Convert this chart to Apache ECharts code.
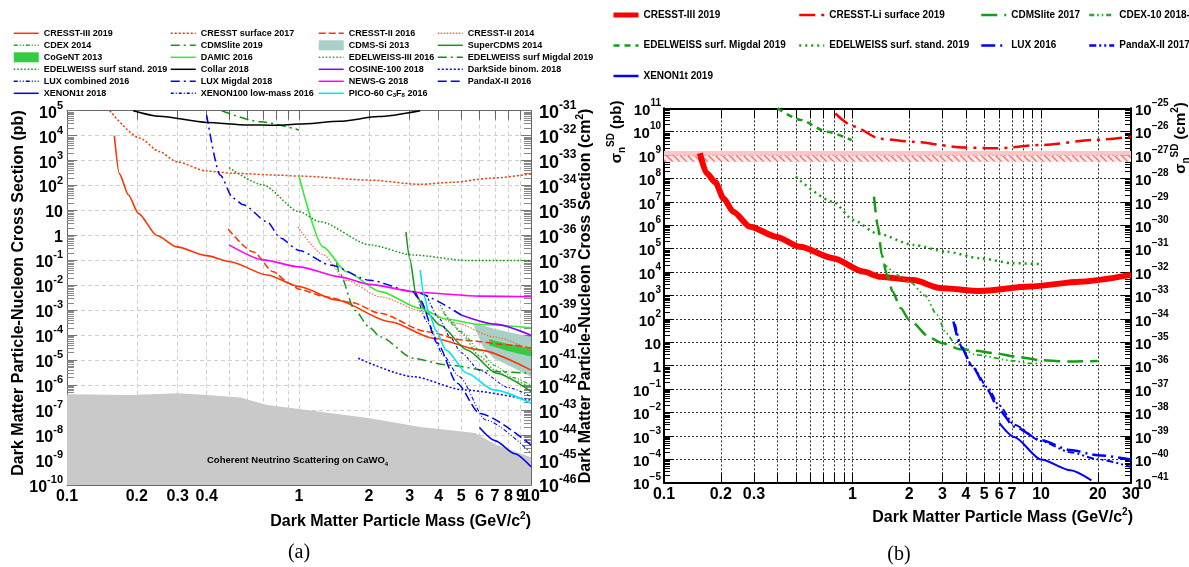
<!DOCTYPE html>
<html><head><meta charset="utf-8">
<script src="https://cdn.jsdelivr.net/npm/echarts@6/dist/echarts.min.js"></script>
<style>html,body{margin:0;padding:0;background:#fff;}#c{width:1189px;height:567px;}</style>
</head><body><div id="c"></div>
<script>
// ---------- tick values ----------
const leftMassTicks = [0.1,0.2,0.3,0.4,0.5,0.6,0.7,0.8,0.9,1,2,3,4,5,6,7,8,9,10];
const leftMassLabels = [0.1,0.2,0.3,0.4,1,2,3,4,5,6,7,8,10];
const leftMassLabelsCrowded = [9];
const rightMassTicks = [0.1,0.2,0.3,0.4,0.5,0.6,0.7,0.8,0.9,1,2,3,4,5,6,7,8,9,10,20,30];
const rightMassLabels = [0.1,0.2,0.3,1,2,3,4,5,6,7,10,20,30];
const leftPbExp = [-10, 5];
const leftCm2Exp = [-46, -31];
const rightPbExp = [-5, 11];
const rightCm2Exp = [-41, -25];

// ---------- panel (a) data: [mass GeV/c2, cross section pb] ----------
const cresst3_2019 = [[0.16,1e4],[0.168,300],[0.184,42],[0.203,7.7],[0.244,1],[0.297,0.35],[0.4,0.155],[0.505,0.089],[0.73,0.026],[1.0,0.009],[1.45,2.6e-3],[2.47,3.5e-4],[3.8,7.6e-5],[6.0,2.6e-5],[10,4e-6]];
const cresstSurf2017 = [[0.153,1e5],[0.206,8e3],[0.25,2.3e3],[0.297,900],[0.4,380],[0.52,310],[0.83,260],[1.0,240],[2.02,165],[3.33,112],[4.6,135],[6.65,195],[10,290]];
const cresst2_2016 = [[0.495,1.8],[0.635,0.22],[0.775,0.035],[0.91,0.012],[1.0,7e-3],[1.3,3.5e-3],[1.71,2e-3],[2.23,7.6e-4],[3.55,1.4e-4],[5.1,6.4e-5],[8.4,4e-5],[10,3e-5]];
const cresst2_2014 = [[0.99,2.2],[1.27,0.17],[1.6,0.016],[2.24,3.5e-3],[3.46,8.8e-4],[4.8,3e-4],[6.9,8.7e-5],[10,2.6e-5]];
const cdex2014 = [[4.2,8e-4],[5,1.4e-4],[6,2.5e-5],[7,6e-6],[8.4,2e-6],[10,1e-6]];
const cdmslite2019 = [[1.45,0.08],[1.5,0.03],[1.74,1e-3],[2.02,2e-4],[2.24,8.7e-5],[3.1,1.2e-5],[4.3,6.5e-6],[7.1,3.5e-6],[10,3e-6]];
const cdmsSi2013Upper = [[5.6,3.2e-4],[7,1.8e-4],[8.4,1.2e-4],[10,8.7e-5]];
const cdmsSi2013Lower = [[5.6,3.2e-4],[6.2,3.5e-5],[6.9,1.2e-5],[8.4,5e-6],[10,2.2e-6]];
const cogent2013Upper = [[6.6,7e-5],[8,4.5e-5],[10,2.8e-5]];
const cogent2013Lower = [[6.6,4e-5],[8,2.3e-5],[10,1.4e-5]];
const superCdms2014 = [[2.89,1.4],[3.0,0.12],[3.2,4e-3],[3.55,8e-4],[4.06,2.5e-4],[5.3,2.6e-5],[7.1,3e-6],[10,5.5e-7]];
const damic2016 = [[1.0,240],[1.27,0.35],[1.6,0.035],[2.24,5.6e-3],[3.33,1.2e-3],[4.3,4.5e-4],[6.0,2.7e-4],[10,2e-4]];
const edelweiss3_2016 = [[4.06,1.6e-3],[4.5,4e-4],[5,1.2e-4],[6,1.5e-5],[7,4e-6],[8.4,1.6e-6],[10,8e-7]];
const edelweissSurfMigdal2019 = [[0.465,1e5],[0.68,3.6e4],[1.0,1.7e4]];
const edelweissSurfStand2019 = [[0.5,520],[0.7,105],[1.0,9],[1.23,3.6],[2.02,0.42],[3.1,0.165],[5.3,0.1],[10,0.1]];
const collar2018 = [[0.193,1e5],[0.25,6e4],[0.4,3.4e4],[0.6,2.7e4],[0.8,2.6e4],[1.0,2.9e4],[1.5,3.8e4],[2.2,5.8e4],[3.33,1e5]];
const cosine100_2018 = [[5,6.5e-4],[7,2.8e-4],[10,1e-4]];
const darkSide2018 = [[1.8,1.2e-5],[3.1,2.2e-6],[5.1,6.5e-7],[10,2.5e-7]];
const luxComb2016 = [[3.2,5e-3],[3.6,3e-4],[4.2,1.5e-5],[4.9,2.2e-6],[6.4,4e-8],[10,1.9e-9]];
const luxMigdal2018 = [[0.4,6.7e4],[0.457,265],[0.52,31],[0.575,17],[0.73,3.5],[0.83,0.8],[1.0,0.25],[1.36,0.066],[2.02,0.016],[3.1,5.6e-3],[5.0,6.5e-4]];
const newsG2018 = [[0.5,0.42],[0.7,0.105],[1.0,0.055],[1.5,0.022],[2.0,0.011],[3.3,5.2e-3],[6,3.7e-3],[10,3.5e-3]];
const pandax2016 = [[3.1,6e-3],[3.33,2.6e-3],[3.95,4.8e-5],[4.8,1.2e-6],[6,7.4e-8],[10,4e-9]];
const xenon1t2018 = [[6.0,2e-8],[7,6e-9],[8.5,1.8e-9],[10,5.4e-10]];
const xenon100lm2016 = [[3.6,3e-3],[4,5e-4],[4.5,8e-5],[5,2e-5],[6,4e-6],[8,8e-7],[10,3.5e-7]];
const pico60_2016 = [[3.33,0.041],[3.46,4e-3],[3.63,8e-4],[3.9,1.5e-4],[4.3,2.6e-5],[5.3,3e-6],[6.9,6.5e-7],[10,1.9e-7]];
const neutrinoFloor = [[0.1,4.3e-7],[0.19,4e-7],[0.3,4.7e-7],[0.4,4e-7],[0.557,3.2e-7],[0.73,1.6e-7],[1.0,1.1e-7],[2.02,4.7e-8],[3.33,2.1e-8],[5.74,1.2e-8],[7.1,4e-9],[10,1.3e-9],[10,1e-10],[0.1,1e-10]];

// ---------- panel (b) data: [mass GeV/c2, sigma_n^SD pb] ----------
const sdCresst3_2019 = [[0.155,1.2e9],[0.168,1.7e8],[0.187,7e7],[0.207,1.4e7],[0.233,3.8e6],[0.286,8.7e5],[0.396,3.2e5],[0.526,1.2e5],[0.79,3.9e4],[1.14,1.05e4],[1.4,6.3e3],[2.1,4.6e3],[2.91,2.1e3],[4.74,1.55e3],[8.75,2.4e3],[16.1,3.9e3],[30,7.6e3]];
const sdCresstLi2019 = [[0.81,6e10],[1.01,1.7e10],[1.4,5e9],[2.1,3.7e9],[3.87,2.1e9],[5.8,1.95e9],[9.9,2.7e9],[19.7,4.5e9],[30,6.2e9]];
const sdCdmslite2017 = [[1.3,1.7e7],[1.36,1e6],[1.43,5.4e4],[1.52,8e3],[1.63,1.5e3],[1.8,290],[2.0,90],[2.6,15],[3,9],[3.76,5],[4.5,4.4],[5.7,3.4],[7.2,2.5],[10,1.7],[14.3,1.5],[20,1.6]];
const sdCdex10_2018 = [[1.46,2.3e4],[2.0,4e3],[2.43,1e3],[2.8,150],[3.13,25],[3.5,9],[4.5,2.9],[7.2,1.6],[8.6,1.26],[10,1.26]];
const sdEdwMigdal2019 = [[0.4,1e11],[0.53,3.2e10],[0.73,1e10],[0.99,4.4e9]];
const sdEdwStand2019 = [[0.5,1.2e8],[0.79,1e7],[1.01,1.7e6],[1.34,4.6e5],[2.1,1.45e5],[3.16,7.4e4],[4.74,3.9e4],[7.1,2.4e4],[10,2.2e4]];
const sdLux2016 = [[3.43,77],[3.76,6.5],[4.32,0.9],[5.2,0.09],[6,0.0126],[7.2,2.5e-3],[10,6.5e-4],[14.3,2.5e-4],[20,1.5e-4],[30,9.8e-5]];
const sdPandax2017 = [[3.5,60],[3.8,6],[4.3,1],[5.2,0.12],[6,0.02],[7.2,3e-3],[10,6e-4],[14.3,2e-4],[20,1e-4],[30,4.7e-5]];
const sdXenon1t2019 = [[6.0,3.6e-3],[7.2,9e-4],[10,9.8e-5],[14.3,3.4e-5],[18.5,1.26e-5]];
const sdMassSpan = [0.1, 30];
const sdPinkBand = [9.4e8, 1.5e9];
const sdHatchBand = [5.2e8, 9.4e8];

// ---------- helpers ----------
const FONT = '"Liberation Sans", Arial, Helvetica, sans-serif';
const L = v => Math.log10(v);
const toLog = pts => pts.map(p => [L(p[0]), L(p[1])]);
const minorTicks = (lo, hi) => { const v = []; for (let n = lo; n < hi; n++) for (let k = 2; k < 10; k++) v.push(n + Math.log10(k)); return v; };
const rect = (xs, ys) => [[xs[0], ys[0]], [xs[1], ys[0]], [xs[1], ys[1]], [xs[0], ys[1]]];
const closeBand = (up, lo) => up.concat(lo.slice().reverse());
const massFmt = v => String(+Math.pow(10, v).toPrecision(2));

function expFmt(minus) {
  return v => {
    const n = Math.round(v);
    if (n === 0) return '{b|1}';
    if (n === 1) return '{b|10}';
    return '{b|10}{s|' + (n < 0 ? minus + (-n) : String(n)) + '}';
  };
}
const labelFont = { fontFamily: FONT, fontWeight: 'bold', fontSize: 16, color: '#000' };
function massAxis(gi, pos, maxM, ticks, labels, o) {
  const bottom = pos === 'bottom';
  return {
    type: 'value', gridIndex: gi, position: pos, min: -1, max: L(maxM),
    axisLine: { show: true, onZero: false, lineStyle: { color: o.line, width: o.lw } },
    axisTick: { show: true, inside: true, length: o.tickLen, customValues: ticks.map(L), lineStyle: { color: o.tick, width: 1 } },
    axisLabel: Object.assign({ show: bottom, customValues: labels.map(L), margin: 4, hideOverlap: false, formatter: massFmt }, labelFont),
    splitLine: { show: bottom, lineStyle: o.split }
  };
}
function labelOnlyAxis(gi, maxM, labels) {
  return {
    type: 'value', gridIndex: gi, position: 'bottom', min: -1, max: L(maxM),
    axisLine: { show: false, onZero: false }, axisTick: { show: false }, splitLine: { show: false },
    axisLabel: Object.assign({ show: true, customValues: labels.map(L), margin: 4, hideOverlap: false, formatter: massFmt }, labelFont)
  };
}
function expAxis(gi, pos, lo, hi, o) {
  return {
    type: 'value', gridIndex: gi, position: pos, min: lo, max: hi, interval: 1,
    axisLine: { show: true, onZero: false, lineStyle: { color: o.line, width: o.lw } },
    axisTick: { show: true, inside: true, length: o.tickLen, lineStyle: { color: o.tick } },
    axisLabel: { show: true, margin: o.margin, hideOverlap: false, formatter: expFmt(o.minus),
      rich: {
        b: { fontSize: o.fs, fontWeight: 'bold', fontFamily: FONT, color: '#000', lineHeight: o.fs + 5, verticalAlign: 'bottom' },
        s: { fontSize: o.sfs, fontWeight: 'bold', fontFamily: FONT, color: '#000', lineHeight: o.sfs + 1, verticalAlign: 'top' }
      } },
    splitLine: { show: !!o.split, lineStyle: o.split || {} }
  };
}
function minorAxis(gi, pos, lo, hi, color, len) {
  return { type: 'value', gridIndex: gi, position: pos, min: lo, max: hi,
    axisLine: { show: false, onZero: false }, axisLabel: { show: false }, splitLine: { show: false },
    axisTick: { show: true, inside: true, length: len, customValues: minorTicks(lo, hi), lineStyle: { color } } };
}
function line(name, pts, xi, yi, color, width, type) {
  return { type: 'line', name, xAxisIndex: xi, yAxisIndex: yi, data: toLog(pts), symbol: 'none',
    smooth: 0.25, smoothMonotone: 'x', clip: true, silent: true, z: 3,
    lineStyle: { color, width, type }, itemStyle: { color }, emphasis: { disabled: true } };
}
function poly(name, pts, xi, yi, fill, z) {
  const lp = toLog(pts);
  return { type: 'custom', name, xAxisIndex: xi, yAxisIndex: yi, coordinateSystem: 'cartesian2d',
    silent: true, clip: true, z, data: [lp[0]], itemStyle: { color: typeof fill === 'string' ? fill : '#ff9999' },
    renderItem: (params, api) => ({ type: 'polygon', shape: { points: lp.map(p => api.coord(p)) }, style: { fill: fill, stroke: null } }) };
}

// hatch pattern
const hc = document.createElement('canvas'); hc.width = 7; hc.height = 7;
const hg = hc.getContext('2d');
hg.fillStyle = '#ffeaea'; hg.fillRect(0, 0, 7, 7);
hg.strokeStyle = '#ff6a6a'; hg.lineWidth = 1.3; hg.beginPath();
hg.moveTo(-1, -1); hg.lineTo(8, 8); hg.moveTo(-1, 6); hg.lineTo(1, 8); hg.moveTo(6, -1); hg.lineTo(8, 1); hg.stroke();

// ---------- axes ----------
const gA = { line: '#666', lw: 1, tick: '#666', tickLen: 9, split: { color: '#cfcfcf', type: [4, 3], width: 1 } };
const gB = { line: '#000', lw: 2, tick: '#000', tickLen: 10, split: { color: '#333', type: [2, 2], width: 1 } };

const xAxis = [
  massAxis(0, 'bottom', 10, leftMassTicks, leftMassLabels, gA),
  massAxis(0, 'top', 10, leftMassTicks, leftMassLabels, gA),
  massAxis(1, 'bottom', 30, rightMassTicks, rightMassLabels, gB),
  massAxis(1, 'top', 30, rightMassTicks, rightMassLabels, gB),
  labelOnlyAxis(0, 10, leftMassLabelsCrowded)
];
const yAxis = [
  expAxis(0, 'left', leftPbExp[0], leftPbExp[1], { line: '#666', lw: 1, tick: '#777', tickLen: 10, margin: 4, minus: '-', fs: 16, sfs: 11, split: gA.split }),
  minorAxis(0, 'left', leftPbExp[0], leftPbExp[1], '#888', 7),
  expAxis(0, 'right', leftCm2Exp[0], leftCm2Exp[1], { line: '#666', lw: 1, tick: '#777', tickLen: 10, margin: 8, minus: '-', fs: 18, sfs: 12 }),
  minorAxis(0, 'right', leftCm2Exp[0], leftCm2Exp[1], '#888', 7),
  expAxis(1, 'left', rightPbExp[0], rightPbExp[1], { line: '#000', lw: 2, tick: '#000', tickLen: 10, margin: 3, minus: '\u2212', fs: 15, sfs: 10, split: gB.split }),
  minorAxis(1, 'left', rightPbExp[0], rightPbExp[1], '#000', 6),
  expAxis(1, 'right', rightCm2Exp[0], rightCm2Exp[1], { line: '#000', lw: 2, tick: '#000', tickLen: 10, margin: 4, minus: '\u2212', fs: 15, sfs: 10 }),
  minorAxis(1, 'right', rightCm2Exp[0], rightCm2Exp[1], '#000', 6)
];

// ---------- series ----------
const RA = '#ff3300', GA = '#119911', BL = '#0000ff';
const CR3B = 'CRESST-III 2019\u200b';
const series = [
  poly('neutrino floor', neutrinoFloor, 0, 0, '#c9c9c9', 1),
  poly('CDMS-Si 2013', closeBand(cdmsSi2013Upper, cdmsSi2013Lower), 0, 0, '#a9cfc6', 2),
  poly('CoGeNT 2013', closeBand(cogent2013Upper, cogent2013Lower), 0, 0, '#33cc44', 2),
  line('CRESST-III 2019', cresst3_2019, 0, 0, RA, 1.6, 'solid'),
  line('CRESST surface 2017', cresstSurf2017, 0, 0, RA, 1.5, [2, 2]),
  line('CRESST-II 2016', cresst2_2016, 0, 0, RA, 1.5, [7, 3]),
  line('CRESST-II 2014', cresst2_2014, 0, 0, '#ff6644', 1.2, [1.5, 1.5]),
  line('CDEX 2014', cdex2014, 0, 0, '#22aa22', 1.2, [4, 2, 1, 2, 1, 2]),
  line('CDMSlite 2019', cdmslite2019, 0, 0, GA, 1.5, [9, 4, 2, 4]),
  line('SuperCDMS 2014', superCdms2014, 0, 0, GA, 1.5, 'solid'),
  line('DAMIC 2016', damic2016, 0, 0, '#33ee33', 1.6, 'solid'),
  line('EDELWEISS-III 2016', edelweiss3_2016, 0, 0, '#33aa33', 1.5, [1.5, 2]),
  line('EDELWEISS surf Migdal 2019', edelweissSurfMigdal2019, 0, 0, '#009900', 1.5, [9, 4, 2, 4]),
  line('EDELWEISS surf stand. 2019', edelweissSurfStand2019, 0, 0, '#009900', 1.5, [1.5, 2]),
  line('Collar 2018', collar2018, 0, 0, '#000000', 1.5, 'solid'),
  line('COSINE-100 2018', cosine100_2018, 0, 0, '#8a00ff', 1.6, 'solid'),
  line('DarkSide binom. 2018', darkSide2018, 0, 0, BL, 1.5, [2, 2]),
  line('LUX combined 2016', luxComb2016, 0, 0, BL, 1.1, [4, 2, 1, 2, 1, 2]),
  line('LUX Migdal 2018', luxMigdal2018, 0, 0, BL, 1.5, [9, 4, 2, 4]),
  line('NEWS-G 2018', newsG2018, 0, 0, '#ff00ff', 1.6, 'solid'),
  line('PandaX-II 2016', pandax2016, 0, 0, BL, 1.5, [9, 4]),
  line('XENON1t 2018', xenon1t2018, 0, 0, BL, 1.6, 'solid'),
  line('XENON100 low-mass 2016', xenon100lm2016, 0, 0, BL, 1.1, [3, 2, 1, 2]),
  line('PICO-60 C3F8 2016', pico60_2016, 0, 0, '#00e5ee', 1.6, 'solid'),

  poly('pink band', rect(sdMassSpan, sdPinkBand), 2, 4, '#ffc4c4', 1),
  poly('hatch band', rect(sdMassSpan, sdHatchBand), 2, 4, { image: hc, repeat: 'repeat' }, 1),
  line(CR3B, sdCresst3_2019, 2, 4, '#ff0000', 6, 'solid'),
  line('CRESST-Li surface 2019', sdCresstLi2019, 2, 4, '#ff0000', 2.5, [16, 6, 3, 6]),
  line('CDMSlite 2017', sdCdmslite2017, 2, 4, '#11a011', 2.5, [16, 7]),
  line('CDEX-10 2018-', sdCdex10_2018, 2, 4, '#22aa22', 1.8, [5, 3, 1.5, 3, 1.5, 3]),
  line('EDELWEISS surf. Migdal 2019', sdEdwMigdal2019, 2, 4, '#11a011', 2.5, [6, 5]),
  line('EDELWEISS surf. stand. 2019', sdEdwStand2019, 2, 4, '#11a011', 2.5, [2, 4]),
  line('LUX 2016', sdLux2016, 2, 4, BL, 2.5, [14, 5, 2, 5]),
  line('PandaX-II 2017', sdPandax2017, 2, 4, BL, 2, [7, 3, 2, 3, 2, 3]),
  line('XENON1t 2019', sdXenon1t2019, 2, 4, BL, 2, 'solid')
];

// ---------- legends ----------
function legendCol(left, top, gap, fs, lw, data) {
  return { orient: 'vertical', left, top, padding: 0, itemWidth: 25, itemHeight: 10, itemGap: gap,
    selectedMode: false, data, lineStyle: { width: lw }, itemStyle: { opacity: 0 },
    formatter: n => n === 'PICO-60 C3F8 2016' ? 'PICO-60 C{sub|3}F{sub|8} 2016' : n.replace('\u200b', ''),
    textStyle: { fontFamily: FONT, fontWeight: 'bold', fontSize: fs, color: '#000', lineHeight: 10,
      rich: { sub: { fontFamily: FONT, fontWeight: 'bold', fontSize: 6, lineHeight: 10, verticalAlign: 'bottom', color: '#000' } } } };
}
const rectItem = name => ({ name, icon: 'rect', itemStyle: { opacity: 1 } });
const legend = [
  legendCol(13, 28.3, 2, 9, 1.5, ['CRESST-III 2019', 'CDEX 2014', rectItem('CoGeNT 2013'), 'EDELWEISS surf stand. 2019', 'LUX combined 2016', 'XENON1t 2018']),
  legendCol(170, 28.3, 2, 9, 1.5, ['CRESST surface 2017', 'CDMSlite 2019', 'DAMIC 2016', 'Collar 2018', 'LUX Migdal 2018', 'XENON100 low-mass 2016']),
  legendCol(318, 28.3, 2, 9, 1.5, ['CRESST-II 2016', rectItem('CDMS-Si 2013'), 'EDELWEISS-III 2016', 'COSINE-100 2018', 'NEWS-G 2018', 'PICO-60 C3F8 2016']),
  legendCol(437, 28.3, 2, 9, 1.5, ['CRESST-II 2014', 'SuperCDMS 2014', 'EDELWEISS surf Migdal 2019', 'DarkSide binom. 2018', 'PandaX-II 2016']),
  legendCol(611, 10, 20.5, 10, 2.5, [{ name: CR3B, lineStyle: { width: 5 } }, 'EDELWEISS surf. Migdal 2019', 'XENON1t 2019']),
  legendCol(798, 10, 20.5, 10, 2.5, ['CRESST-Li surface 2019', 'EDELWEISS surf. stand. 2019']),
  legendCol(980, 10, 20.5, 10, 2.5, ['CDMSlite 2017', 'LUX 2016']),
  legendCol(1088, 10, 20.5, 10, 2.5, ['CDEX-10 2018-', 'PandaX-II 2017'])
];

// ---------- texts ----------
const supR = fs => ({ fontFamily: FONT, fontWeight: 'bold', fontSize: fs, verticalAlign: 'top', lineHeight: fs + 1, fill: '#000' });
const subR = fs => ({ fontFamily: FONT, fontWeight: 'bold', fontSize: fs, verticalAlign: 'bottom', lineHeight: fs + 1, fill: '#000' });
function txt(x, y, text, fs, align, rot, extra) {
  return { type: 'text', x, y, rotation: rot || 0, silent: true, z: 50,
    style: Object.assign({ text, fontFamily: FONT, fontWeight: 'bold', fontSize: fs, fill: '#000', align: align || 'center', verticalAlign: 'middle',
      lineHeight: fs + 6, rich: { s: supR(Math.round(fs * 0.65)), u: subR(Math.round(fs * 0.65)) } }, extra || {}) };
}
const graphic = [
  txt(19, 293, 'Dark Matter Particle-Nucleon Cross Section (pb)', 16, 'center', Math.PI / 2),
  txt(586, 296, 'Dark Matter Particle-Nucleon Cross Section (cm{s|2})', 16, 'center', Math.PI / 2),
  txt(531, 522, 'Dark Matter Particle Mass (GeV/c{s|2})', 16, 'right'),
  txt(207, 460, 'Coherent Neutrino Scattering on CaWO{u|4}', 9.5, 'left'),
  txt(299, 553, '(a)', 20, 'center', 0, { fontFamily: '"Liberation Serif", "DejaVu Serif", serif', fontWeight: 'normal' }),
  txt(617, 132, '\u03c3{u|n}{s|SD} (pb)', 15, 'center', Math.PI / 2),
  txt(1181, 138, '\u03c3{u|n}{s|SD} (cm{s|2})', 15, 'center', Math.PI / 2),
  txt(1133, 518, 'Dark Matter Particle Mass (GeV/c{s|2})', 16, 'right'),
  txt(899, 555, '(b)', 20, 'center', 0, { fontFamily: '"Liberation Serif", "DejaVu Serif", serif', fontWeight: 'normal' })
];

const chart = echarts.init(document.getElementById('c'), null, { renderer: 'canvas' });
chart.setOption({
  animation: false,
  backgroundColor: '#ffffff',
  grid: [
    { left: 67, top: 110.7, width: 464, height: 374.3, containLabel: false, outerBoundsMode: 'none' },
    { left: 664, top: 108.3, width: 467, height: 374.4, containLabel: false, outerBoundsMode: 'none' }
  ],
  xAxis, yAxis, series, legend, graphic
});
</script></body></html>
